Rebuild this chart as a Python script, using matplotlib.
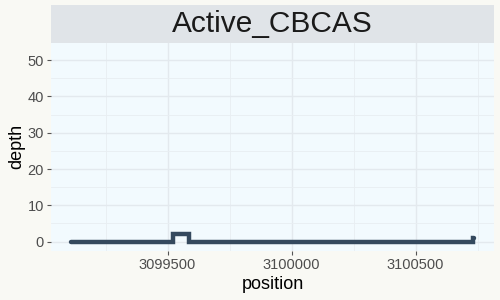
import matplotlib
matplotlib.use("Agg")
import matplotlib.pyplot as plt
from matplotlib.ticker import MultipleLocator

plt.rcParams['font.family'] = ['Liberation Sans', 'DejaVu Sans']

# coverage track (step data)
position = [3099111, 3099521, 3099585, 3100733, 3100735]
depth = [0, 2, 0, 1, 1]
x_ticks = [3099500, 3100000, 3100500]
y_ticks = [0, 10, 20, 30, 40, 50]
title = "Active_CBCAS"

fig = plt.figure(figsize=(5, 3), dpi=100)
fig.patch.set_facecolor("#F9F9F4")

ax = fig.add_axes([0.102, 0.163, 0.886, 0.695])
ax.set_facecolor("#F2FAFE")
ax.step(position, depth, where="post", color="#34495E", linewidth=3.2,
        solid_joinstyle="miter", solid_capstyle="round")

ax.set_xlim(3099030, 3100816)
ax.set_ylim(-2.6, 54.8)
ax.set_xticks(x_ticks)
ax.set_xticklabels([str(v) for v in x_ticks])
ax.set_yticks(y_ticks)
ax.xaxis.set_minor_locator(MultipleLocator(250))
ax.yaxis.set_minor_locator(MultipleLocator(5))
ax.grid(which="major", color="#E3E9EE", linewidth=1.0)
ax.grid(which="minor", color="#E8EEF2", linewidth=0.6)
ax.set_axisbelow(True)
for s in ax.spines.values():
    s.set_visible(False)
ax.tick_params(which="major", length=3, width=0.8, color="#555555",
               labelsize=10.5, labelcolor="#4D4D4D", pad=2)
ax.tick_params(which="minor", length=0)
ax.set_xlabel("position", fontsize=13, labelpad=3)
ax.set_ylabel("depth", fontsize=13, labelpad=2)

# facet strip
strip = fig.add_axes([0.102, 0.858, 0.886, 0.125])
strip.set_facecolor("#E0E4E8")
strip.set_xticks([])
strip.set_yticks([])
for s in strip.spines.values():
    s.set_visible(False)
strip.text(0.5, 0.5, title, ha="center", va="center", fontsize=21.5,
           color="#1A1A1A", transform=strip.transAxes)

fig.savefig("out.png", dpi=100, facecolor=fig.get_facecolor())
